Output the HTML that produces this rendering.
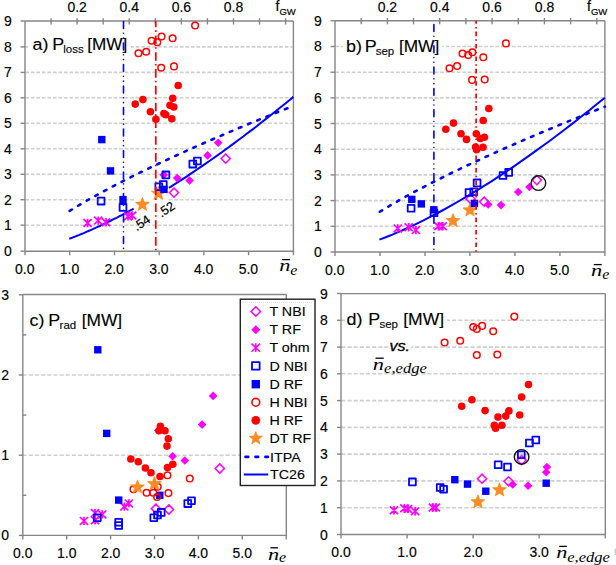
<!DOCTYPE html>
<html><head><meta charset="utf-8"><style>
html,body{margin:0;padding:0;background:#fff;}
svg{display:block;}
text{font-family:"Liberation Sans",sans-serif;fill:#000;stroke:#000;stroke-width:0.2px;}
</style></head><body>
<svg width="616" height="565" viewBox="0 0 616 565">
<rect width="616" height="565" fill="#fff"/>
<line x1="25.3" y1="225.2" x2="292.4" y2="225.2" stroke="#cfcfcf" stroke-width="1.6" stroke-dasharray="3.7 1.82"/>
<line x1="25.3" y1="199.7" x2="292.4" y2="199.7" stroke="#cfcfcf" stroke-width="1.6" stroke-dasharray="3.7 1.82"/>
<line x1="25.3" y1="174.3" x2="292.4" y2="174.3" stroke="#cfcfcf" stroke-width="1.6" stroke-dasharray="3.7 1.82"/>
<line x1="25.3" y1="148.8" x2="292.4" y2="148.8" stroke="#cfcfcf" stroke-width="1.6" stroke-dasharray="3.7 1.82"/>
<line x1="25.3" y1="123.3" x2="292.4" y2="123.3" stroke="#cfcfcf" stroke-width="1.6" stroke-dasharray="3.7 1.82"/>
<line x1="25.3" y1="97.8" x2="292.4" y2="97.8" stroke="#cfcfcf" stroke-width="1.6" stroke-dasharray="3.7 1.82"/>
<line x1="25.3" y1="72.4" x2="292.4" y2="72.4" stroke="#cfcfcf" stroke-width="1.6" stroke-dasharray="3.7 1.82"/>
<line x1="25.3" y1="46.9" x2="292.4" y2="46.9" stroke="#cfcfcf" stroke-width="1.6" stroke-dasharray="3.7 1.82"/>
<path d="M25.0 21.0L25.0 251.2L293.4 251.2L293.4 21.0M25.0 21.0L293.4 21.0" stroke="#868686" stroke-width="1.4" fill="none"/>
<line x1="20.5" y1="251.2" x2="25.0" y2="251.2" stroke="#868686" stroke-width="1.4" />
<line x1="20.5" y1="225.2" x2="25.0" y2="225.2" stroke="#868686" stroke-width="1.4" />
<line x1="20.5" y1="199.7" x2="25.0" y2="199.7" stroke="#868686" stroke-width="1.4" />
<line x1="20.5" y1="174.3" x2="25.0" y2="174.3" stroke="#868686" stroke-width="1.4" />
<line x1="20.5" y1="148.8" x2="25.0" y2="148.8" stroke="#868686" stroke-width="1.4" />
<line x1="20.5" y1="123.3" x2="25.0" y2="123.3" stroke="#868686" stroke-width="1.4" />
<line x1="20.5" y1="97.8" x2="25.0" y2="97.8" stroke="#868686" stroke-width="1.4" />
<line x1="20.5" y1="72.4" x2="25.0" y2="72.4" stroke="#868686" stroke-width="1.4" />
<line x1="20.5" y1="46.9" x2="25.0" y2="46.9" stroke="#868686" stroke-width="1.4" />
<line x1="20.5" y1="21.0" x2="25.0" y2="21.0" stroke="#868686" stroke-width="1.4" />
<line x1="25.0" y1="251.2" x2="25.0" y2="255.2" stroke="#868686" stroke-width="1.4" />
<line x1="69.7" y1="251.2" x2="69.7" y2="255.2" stroke="#868686" stroke-width="1.4" />
<line x1="114.5" y1="251.2" x2="114.5" y2="255.2" stroke="#868686" stroke-width="1.4" />
<line x1="159.2" y1="251.2" x2="159.2" y2="255.2" stroke="#868686" stroke-width="1.4" />
<line x1="203.9" y1="251.2" x2="203.9" y2="255.2" stroke="#868686" stroke-width="1.4" />
<line x1="248.6" y1="251.2" x2="248.6" y2="255.2" stroke="#868686" stroke-width="1.4" />
<line x1="293.4" y1="251.2" x2="293.4" y2="255.2" stroke="#868686" stroke-width="1.4" />
<line x1="51.1" y1="18.2" x2="51.1" y2="24.5" stroke="#868686" stroke-width="1.4" />
<line x1="77.1" y1="18.2" x2="77.1" y2="24.5" stroke="#868686" stroke-width="1.4" />
<line x1="103.2" y1="18.2" x2="103.2" y2="24.5" stroke="#868686" stroke-width="1.4" />
<line x1="129.2" y1="18.2" x2="129.2" y2="24.5" stroke="#868686" stroke-width="1.4" />
<line x1="155.3" y1="18.2" x2="155.3" y2="24.5" stroke="#868686" stroke-width="1.4" />
<line x1="181.4" y1="18.2" x2="181.4" y2="24.5" stroke="#868686" stroke-width="1.4" />
<line x1="207.4" y1="18.2" x2="207.4" y2="24.5" stroke="#868686" stroke-width="1.4" />
<line x1="233.5" y1="18.2" x2="233.5" y2="24.5" stroke="#868686" stroke-width="1.4" />
<line x1="259.5" y1="18.2" x2="259.5" y2="24.5" stroke="#868686" stroke-width="1.4" />
<line x1="285.6" y1="18.2" x2="285.6" y2="24.5" stroke="#868686" stroke-width="1.4" />
<text transform="translate(11.70,256.20) scale(1,1.07)" font-size="14" text-anchor="end" style="stroke-width:0.15px">0</text>
<text transform="translate(11.70,230.20) scale(1,1.07)" font-size="14" text-anchor="end" style="stroke-width:0.15px">1</text>
<text transform="translate(11.70,204.73) scale(1,1.07)" font-size="14" text-anchor="end" style="stroke-width:0.15px">2</text>
<text transform="translate(11.70,179.26) scale(1,1.07)" font-size="14" text-anchor="end" style="stroke-width:0.15px">3</text>
<text transform="translate(11.70,153.79) scale(1,1.07)" font-size="14" text-anchor="end" style="stroke-width:0.15px">4</text>
<text transform="translate(11.70,128.32) scale(1,1.07)" font-size="14" text-anchor="end" style="stroke-width:0.15px">5</text>
<text transform="translate(11.70,102.85) scale(1,1.07)" font-size="14" text-anchor="end" style="stroke-width:0.15px">6</text>
<text transform="translate(11.70,77.38) scale(1,1.07)" font-size="14" text-anchor="end" style="stroke-width:0.15px">7</text>
<text transform="translate(11.70,51.91) scale(1,1.07)" font-size="14" text-anchor="end" style="stroke-width:0.15px">8</text>
<text transform="translate(11.70,26.00) scale(1,1.07)" font-size="14" text-anchor="end" style="stroke-width:0.15px">9</text>
<text transform="translate(24.70,273.90) scale(1,1.07)" font-size="14" text-anchor="middle" style="stroke-width:0.15px">0.0</text>
<text transform="translate(69.43,273.90) scale(1,1.07)" font-size="14" text-anchor="middle" style="stroke-width:0.15px">1.0</text>
<text transform="translate(114.16,273.90) scale(1,1.07)" font-size="14" text-anchor="middle" style="stroke-width:0.15px">2.0</text>
<text transform="translate(158.89,273.90) scale(1,1.07)" font-size="14" text-anchor="middle" style="stroke-width:0.15px">3.0</text>
<text transform="translate(203.62,273.90) scale(1,1.07)" font-size="14" text-anchor="middle" style="stroke-width:0.15px">4.0</text>
<text transform="translate(248.35,273.90) scale(1,1.07)" font-size="14" text-anchor="middle" style="stroke-width:0.15px">5.0</text>
<text transform="translate(77.12,11.80) scale(1,1.07)" font-size="14" text-anchor="middle" style="stroke-width:0.15px">0.2</text>
<text transform="translate(129.24,11.80) scale(1,1.07)" font-size="14" text-anchor="middle" style="stroke-width:0.15px">0.4</text>
<text transform="translate(181.36,11.80) scale(1,1.07)" font-size="14" text-anchor="middle" style="stroke-width:0.15px">0.6</text>
<text transform="translate(233.48,11.80) scale(1,1.07)" font-size="14" text-anchor="middle" style="stroke-width:0.15px">0.8</text>
<text x="275.4" y="11.3" font-size="14" text-anchor="start" >f</text>
<text x="279.4" y="14.6" font-size="9.5" text-anchor="start" >GW</text>
<text transform="translate(279.30,271.10) scale(1.28,1)" style="font-family:'Liberation Serif';font-style:italic;font-size:17.5px;stroke-width:0px" >n</text>
<line x1="282.0" y1="259.6" x2="289.9" y2="259.6" stroke="#000" stroke-width="1.3"/>
<text transform="translate(290.32,274.90) scale(1.07,1)" style="font-family:'Liberation Serif';font-style:italic;font-size:15px;stroke-width:0px" >e</text>
<rect x="28" y="36" width="103" height="21" fill="#fff"/>
<text transform="translate(32.6,50.3) scale(1.1,1)" font-size="16.3" style="stroke-width:0.12px">a)</text>
<text transform="translate(52.2,50.3) scale(1.1,1)" font-size="16.3" style="stroke-width:0.12px">P</text>
<text x="63.2" y="53.4" font-size="11.5" style="stroke-width:0.12px">loss</text>
<text x="87.3" y="50.3" font-size="16.3" textLength="40" lengthAdjust="spacingAndGlyphs" style="stroke-width:0.12px">[MW]</text>
<rect x="134" y="197.8" width="34.6" height="3.6" fill="#fff"/>
<polyline points="69.2,211.2 74.8,207.7 80.4,204.4 86.0,201.1 91.6,197.9 97.2,194.8 102.8,191.7 108.4,188.7 114.0,185.8 119.6,182.8 125.2,180.0 130.8,177.2 136.4,174.4 142.1,171.6 147.7,168.9 153.3,166.2 158.9,163.5 164.5,160.9 170.1,158.3 175.7,155.7 181.3,153.2 186.9,150.6 192.5,148.1 198.1,145.6 203.7,143.2 209.3,140.7 214.9,138.3 220.5,135.9 226.1,133.5 231.7,131.1 237.3,128.7 242.9,126.4 248.5,124.0 254.1,121.7 259.8,119.4 265.4,117.1 271.0,114.9 276.6,112.6 282.2,110.3 287.8,108.1 293.4,105.9" fill="none" stroke="#0000ff" stroke-width="2.6" stroke-dasharray="2.7 7.23" stroke-dashoffset="-0.51" stroke-linecap="round"/>
<polyline points="69.2,238.8 70.8,238.2 72.4,237.6 74.0,237.0 75.6,236.4 77.2,235.7 78.8,235.1 80.5,234.4 82.1,233.8 83.7,233.1 85.3,232.4 86.9,231.7 88.5,231.0 90.1,230.3 91.7,229.6 93.3,228.9 94.9,228.2 96.5,227.4 98.2,226.7 99.8,226.0 101.4,225.2 103.0,224.4 104.6,223.7 106.2,222.9 107.8,222.1 109.4,221.3 111.0,220.5 112.6,219.7 114.2,218.9 115.9,218.1 117.5,217.3 119.1,216.4 120.7,215.6 122.3,214.8 123.9,213.9 125.5,213.1 127.1,212.2 128.7,211.3 130.3,210.4 132.0,209.6 133.6,208.7" fill="none" stroke="#0000ff" stroke-width="2.0" />
<polyline points="169.0,187.8 172.1,185.8 175.2,183.8 178.4,181.9 181.5,179.8 184.6,177.8 187.7,175.8 190.8,173.7 193.9,171.6 197.0,169.5 200.1,167.4 203.2,165.3 206.3,163.1 209.4,161.0 212.6,158.8 215.7,156.6 218.8,154.4 221.9,152.2 225.0,149.9 228.1,147.7 231.2,145.4 234.3,143.1 237.4,140.8 240.5,138.5 243.6,136.2 246.7,133.8 249.9,131.4 253.0,129.1 256.1,126.7 259.2,124.3 262.3,121.8 265.4,119.4 268.5,117.0 271.6,114.5 274.7,112.0 277.8,109.5 280.9,107.0 284.1,104.5 287.2,102.0 290.3,99.4 293.4,96.9" fill="none" stroke="#0000ff" stroke-width="2.0" />
<path d="M174.0 188.0L178.6 192.6L174.0 197.2L169.4 192.6Z" fill="none" stroke="#ff00ff" stroke-width="1.5"/>
<path d="M225.7 154.0L230.3 158.6L225.7 163.2L221.1 158.6Z" fill="none" stroke="#ff00ff" stroke-width="1.5"/>
<path d="M163.8 170.6L168.1 174.9L163.8 179.2L159.5 174.9Z" fill="#ff00ff"/>
<path d="M177.2 173.8L181.5 178.1L177.2 182.4L172.9 178.1Z" fill="#ff00ff"/>
<path d="M189.6 176.2L193.9 180.5L189.6 184.8L185.3 180.5Z" fill="#ff00ff"/>
<path d="M207.6 151.1L211.9 155.4L207.6 159.7L203.3 155.4Z" fill="#ff00ff"/>
<path d="M218.2 138.4L222.5 142.7L218.2 147.0L213.9 142.7Z" fill="#ff00ff"/>
<path d="M83.5 219.1L91.7 226.9M91.7 219.1L83.5 226.9M87.6 218.8L87.6 227.2" stroke="#ff00ff" stroke-width="1.7" fill="none"/>
<path d="M94.1 216.7L102.3 224.5M102.3 216.7L94.1 224.5M98.2 216.4L98.2 224.8" stroke="#ff00ff" stroke-width="1.7" fill="none"/>
<path d="M101.9 218.4L110.1 226.2M110.1 218.4L101.9 226.2M106.0 218.1L106.0 226.5" stroke="#ff00ff" stroke-width="1.7" fill="none"/>
<path d="M123.9 212.5L132.1 220.3M132.1 212.5L123.9 220.3M128.0 212.2L128.0 220.6" stroke="#ff00ff" stroke-width="1.7" fill="none"/>
<path d="M128.1 211.6L136.3 219.4M136.3 211.6L128.1 219.4M132.2 211.3L132.2 219.7" stroke="#ff00ff" stroke-width="1.7" fill="none"/>
<polygon points="142.40,197.30 144.25,202.06 149.34,202.34 145.39,205.57 146.69,210.51 142.40,207.74 138.11,210.51 139.41,205.57 135.46,202.34 140.55,202.06" fill="#ff8c26" stroke="#ff8000" stroke-width="0.6"/>
<polygon points="158.40,186.30 160.25,191.06 165.34,191.34 161.39,194.57 162.69,199.51 158.40,196.74 154.11,199.51 155.41,194.57 151.46,191.34 156.55,191.06" fill="#ff8c26" stroke="#ff8000" stroke-width="0.6"/>
<rect x="97.70" y="197.70" width="6.8" height="6.8" fill="none" stroke="#0000ff" stroke-width="1.8" stroke-linejoin="round"/>
<rect x="119.60" y="204.00" width="6.8" height="6.8" fill="none" stroke="#0000ff" stroke-width="1.8" stroke-linejoin="round"/>
<rect x="162.50" y="171.50" width="6.8" height="6.8" fill="none" stroke="#0000ff" stroke-width="1.8" stroke-linejoin="round"/>
<rect x="155.40" y="183.30" width="6.8" height="6.8" fill="none" stroke="#0000ff" stroke-width="1.8" stroke-linejoin="round"/>
<rect x="159.90" y="181.20" width="6.8" height="6.8" fill="none" stroke="#0000ff" stroke-width="1.8" stroke-linejoin="round"/>
<rect x="189.40" y="160.70" width="6.8" height="6.8" fill="none" stroke="#0000ff" stroke-width="1.8" stroke-linejoin="round"/>
<rect x="194.00" y="157.60" width="6.8" height="6.8" fill="none" stroke="#0000ff" stroke-width="1.8" stroke-linejoin="round"/>
<rect x="98.10" y="135.90" width="7.4" height="7.4" fill="#0000ff"/>
<rect x="106.80" y="167.20" width="7.4" height="7.4" fill="#0000ff"/>
<rect x="119.30" y="195.90" width="7.4" height="7.4" fill="#0000ff"/>
<rect x="160.30" y="185.70" width="7.4" height="7.4" fill="#0000ff"/>
<circle cx="195.1" cy="25.5" r="3.3" fill="none" stroke="#ff0000" stroke-width="1.5"/>
<circle cx="161.6" cy="36.5" r="3.3" fill="none" stroke="#ff0000" stroke-width="1.5"/>
<circle cx="172.6" cy="38.2" r="3.3" fill="none" stroke="#ff0000" stroke-width="1.5"/>
<circle cx="151.6" cy="40.8" r="3.3" fill="none" stroke="#ff0000" stroke-width="1.5"/>
<circle cx="157.3" cy="42.2" r="3.3" fill="none" stroke="#ff0000" stroke-width="1.5"/>
<circle cx="138.5" cy="53.3" r="3.3" fill="none" stroke="#ff0000" stroke-width="1.5"/>
<circle cx="146.2" cy="51.8" r="3.3" fill="none" stroke="#ff0000" stroke-width="1.5"/>
<circle cx="161.2" cy="67.7" r="3.3" fill="none" stroke="#ff0000" stroke-width="1.5"/>
<circle cx="174.0" cy="66.4" r="3.3" fill="none" stroke="#ff0000" stroke-width="1.5"/>
<circle cx="178.2" cy="85.5" r="3.8" fill="#ff0000"/>
<circle cx="142.9" cy="99.6" r="3.8" fill="#ff0000"/>
<circle cx="135.2" cy="104.1" r="3.8" fill="#ff0000"/>
<circle cx="172.7" cy="98.3" r="3.8" fill="#ff0000"/>
<circle cx="170.0" cy="105.2" r="3.8" fill="#ff0000"/>
<circle cx="173.8" cy="107.0" r="3.8" fill="#ff0000"/>
<circle cx="150.4" cy="111.7" r="3.8" fill="#ff0000"/>
<circle cx="163.9" cy="113.5" r="3.8" fill="#ff0000"/>
<circle cx="165.7" cy="114.8" r="3.8" fill="#ff0000"/>
<circle cx="155.9" cy="119.3" r="3.8" fill="#ff0000"/>
<circle cx="171.8" cy="118.8" r="3.8" fill="#ff0000"/>
<line x1="123.5" y1="21.0" x2="123.5" y2="251.2" stroke="#0000ff" stroke-width="1.6" stroke-dasharray="7 4.85 0.01 4.79 0.01 4.85" stroke-dashoffset="-0.45" stroke-linecap="round"/>
<line x1="155.8" y1="21.0" x2="155.8" y2="251.2" stroke="#ff0000" stroke-width="1.7" stroke-dasharray="8.6 3.1 1.6 3.5" stroke-dashoffset="2.36"/>
<text x="0" y="0" font-size="12.6" text-anchor="start" transform="translate(136.8,231.3) rotate(-34)">.54</text>
<text x="0" y="0" font-size="12.6" text-anchor="start" transform="translate(161.4,217.8) rotate(-34)">.52</text>
<line x1="335.3" y1="226.3" x2="603.9" y2="226.3" stroke="#cfcfcf" stroke-width="1.6" stroke-dasharray="3.7 1.82"/>
<line x1="335.3" y1="200.6" x2="603.9" y2="200.6" stroke="#cfcfcf" stroke-width="1.6" stroke-dasharray="3.7 1.82"/>
<line x1="335.3" y1="174.9" x2="603.9" y2="174.9" stroke="#cfcfcf" stroke-width="1.6" stroke-dasharray="3.7 1.82"/>
<line x1="335.3" y1="149.2" x2="603.9" y2="149.2" stroke="#cfcfcf" stroke-width="1.6" stroke-dasharray="3.7 1.82"/>
<line x1="335.3" y1="123.5" x2="603.9" y2="123.5" stroke="#cfcfcf" stroke-width="1.6" stroke-dasharray="3.7 1.82"/>
<line x1="335.3" y1="97.9" x2="603.9" y2="97.9" stroke="#cfcfcf" stroke-width="1.6" stroke-dasharray="3.7 1.82"/>
<line x1="335.3" y1="72.2" x2="603.9" y2="72.2" stroke="#cfcfcf" stroke-width="1.6" stroke-dasharray="3.7 1.82"/>
<line x1="335.3" y1="46.5" x2="603.9" y2="46.5" stroke="#cfcfcf" stroke-width="1.6" stroke-dasharray="3.7 1.82"/>
<path d="M335.0 20.8L335.0 252.0L604.9 252.0L604.9 20.8M335.0 20.8L604.9 20.8" stroke="#868686" stroke-width="1.4" fill="none"/>
<line x1="330.5" y1="252.0" x2="335.0" y2="252.0" stroke="#868686" stroke-width="1.4" />
<line x1="330.5" y1="226.3" x2="335.0" y2="226.3" stroke="#868686" stroke-width="1.4" />
<line x1="330.5" y1="200.6" x2="335.0" y2="200.6" stroke="#868686" stroke-width="1.4" />
<line x1="330.5" y1="174.9" x2="335.0" y2="174.9" stroke="#868686" stroke-width="1.4" />
<line x1="330.5" y1="149.2" x2="335.0" y2="149.2" stroke="#868686" stroke-width="1.4" />
<line x1="330.5" y1="123.5" x2="335.0" y2="123.5" stroke="#868686" stroke-width="1.4" />
<line x1="330.5" y1="97.9" x2="335.0" y2="97.9" stroke="#868686" stroke-width="1.4" />
<line x1="330.5" y1="72.2" x2="335.0" y2="72.2" stroke="#868686" stroke-width="1.4" />
<line x1="330.5" y1="46.5" x2="335.0" y2="46.5" stroke="#868686" stroke-width="1.4" />
<line x1="330.5" y1="20.8" x2="335.0" y2="20.8" stroke="#868686" stroke-width="1.4" />
<line x1="335.0" y1="252.0" x2="335.0" y2="256.0" stroke="#868686" stroke-width="1.4" />
<line x1="380.0" y1="252.0" x2="380.0" y2="256.0" stroke="#868686" stroke-width="1.4" />
<line x1="425.0" y1="252.0" x2="425.0" y2="256.0" stroke="#868686" stroke-width="1.4" />
<line x1="469.9" y1="252.0" x2="469.9" y2="256.0" stroke="#868686" stroke-width="1.4" />
<line x1="514.9" y1="252.0" x2="514.9" y2="256.0" stroke="#868686" stroke-width="1.4" />
<line x1="559.9" y1="252.0" x2="559.9" y2="256.0" stroke="#868686" stroke-width="1.4" />
<line x1="604.9" y1="252.0" x2="604.9" y2="256.0" stroke="#868686" stroke-width="1.4" />
<line x1="361.2" y1="18.0" x2="361.2" y2="24.3" stroke="#868686" stroke-width="1.4" />
<line x1="387.4" y1="18.0" x2="387.4" y2="24.3" stroke="#868686" stroke-width="1.4" />
<line x1="413.5" y1="18.0" x2="413.5" y2="24.3" stroke="#868686" stroke-width="1.4" />
<line x1="439.7" y1="18.0" x2="439.7" y2="24.3" stroke="#868686" stroke-width="1.4" />
<line x1="465.9" y1="18.0" x2="465.9" y2="24.3" stroke="#868686" stroke-width="1.4" />
<line x1="492.1" y1="18.0" x2="492.1" y2="24.3" stroke="#868686" stroke-width="1.4" />
<line x1="518.3" y1="18.0" x2="518.3" y2="24.3" stroke="#868686" stroke-width="1.4" />
<line x1="544.4" y1="18.0" x2="544.4" y2="24.3" stroke="#868686" stroke-width="1.4" />
<line x1="570.6" y1="18.0" x2="570.6" y2="24.3" stroke="#868686" stroke-width="1.4" />
<line x1="596.8" y1="18.0" x2="596.8" y2="24.3" stroke="#868686" stroke-width="1.4" />
<text transform="translate(321.70,257.00) scale(1,1.07)" font-size="14" text-anchor="end" style="stroke-width:0.15px">0</text>
<text transform="translate(321.70,231.31) scale(1,1.07)" font-size="14" text-anchor="end" style="stroke-width:0.15px">1</text>
<text transform="translate(321.70,205.62) scale(1,1.07)" font-size="14" text-anchor="end" style="stroke-width:0.15px">2</text>
<text transform="translate(321.70,179.93) scale(1,1.07)" font-size="14" text-anchor="end" style="stroke-width:0.15px">3</text>
<text transform="translate(321.70,154.24) scale(1,1.07)" font-size="14" text-anchor="end" style="stroke-width:0.15px">4</text>
<text transform="translate(321.70,128.55) scale(1,1.07)" font-size="14" text-anchor="end" style="stroke-width:0.15px">5</text>
<text transform="translate(321.70,102.86) scale(1,1.07)" font-size="14" text-anchor="end" style="stroke-width:0.15px">6</text>
<text transform="translate(321.70,77.17) scale(1,1.07)" font-size="14" text-anchor="end" style="stroke-width:0.15px">7</text>
<text transform="translate(321.70,51.48) scale(1,1.07)" font-size="14" text-anchor="end" style="stroke-width:0.15px">8</text>
<text transform="translate(321.70,25.80) scale(1,1.07)" font-size="14" text-anchor="end" style="stroke-width:0.15px">9</text>
<text transform="translate(334.70,274.80) scale(1,1.07)" font-size="14" text-anchor="middle" style="stroke-width:0.15px">0.0</text>
<text transform="translate(379.68,274.80) scale(1,1.07)" font-size="14" text-anchor="middle" style="stroke-width:0.15px">1.0</text>
<text transform="translate(424.66,274.80) scale(1,1.07)" font-size="14" text-anchor="middle" style="stroke-width:0.15px">2.0</text>
<text transform="translate(469.64,274.80) scale(1,1.07)" font-size="14" text-anchor="middle" style="stroke-width:0.15px">3.0</text>
<text transform="translate(514.62,274.80) scale(1,1.07)" font-size="14" text-anchor="middle" style="stroke-width:0.15px">4.0</text>
<text transform="translate(559.60,274.80) scale(1,1.07)" font-size="14" text-anchor="middle" style="stroke-width:0.15px">5.0</text>
<text transform="translate(387.36,11.80) scale(1,1.07)" font-size="14" text-anchor="middle" style="stroke-width:0.15px">0.2</text>
<text transform="translate(439.72,11.80) scale(1,1.07)" font-size="14" text-anchor="middle" style="stroke-width:0.15px">0.4</text>
<text transform="translate(492.08,11.80) scale(1,1.07)" font-size="14" text-anchor="middle" style="stroke-width:0.15px">0.6</text>
<text transform="translate(544.44,11.80) scale(1,1.07)" font-size="14" text-anchor="middle" style="stroke-width:0.15px">0.8</text>
<text x="586.9" y="11.3" font-size="14" text-anchor="start" >f</text>
<text x="590.9" y="14.6" font-size="9.5" text-anchor="start" >GW</text>
<text transform="translate(591.10,276.10) scale(1.28,1)" style="font-family:'Liberation Serif';font-style:italic;font-size:17.5px;stroke-width:0px" >n</text>
<line x1="593.8" y1="264.6" x2="601.7" y2="264.6" stroke="#000" stroke-width="1.3"/>
<text transform="translate(602.32,279.10) scale(1.07,1)" style="font-family:'Liberation Serif';font-style:italic;font-size:15px;stroke-width:0px" >e</text>
<rect x="343" y="36" width="99" height="22" fill="#fff"/>
<text transform="translate(346.0,52.1) scale(1.1,1)" font-size="16.3" style="stroke-width:0.12px">b)</text>
<text transform="translate(364.8,52.1) scale(1.1,1)" font-size="16.3" style="stroke-width:0.12px">P</text>
<text x="375.7" y="55.2" font-size="11.5" style="stroke-width:0.12px">sep</text>
<text x="398.9" y="52.1" font-size="16.3" textLength="40.3" lengthAdjust="spacingAndGlyphs" style="stroke-width:0.12px">[MW]</text>
<polyline points="379.4,212.0 385.1,208.5 390.7,205.2 396.3,201.9 402.0,198.7 407.6,195.6 413.3,192.5 418.9,189.5 424.5,186.6 430.2,183.6 435.8,180.8 441.4,178.0 447.1,175.2 452.7,172.4 458.3,169.7 464.0,167.0 469.6,164.3 475.3,161.7 480.9,159.1 486.5,156.5 492.2,154.0 497.8,151.4 503.4,148.9 509.1,146.4 514.7,144.0 520.3,141.5 526.0,139.1 531.6,136.7 537.2,134.3 542.9,131.9 548.5,129.5 554.2,127.2 559.8,124.8 565.4,122.5 571.1,120.2 576.7,117.9 582.3,115.7 588.0,113.4 593.6,111.1 599.2,108.9 604.9,106.7" fill="none" stroke="#0000ff" stroke-width="2.6" stroke-dasharray="2.7 7.23" stroke-dashoffset="-0.51" stroke-linecap="round"/>
<polyline points="379.4,239.6 385.1,237.5 390.7,235.3 396.3,232.9 402.0,230.5 407.6,227.9 413.3,225.3 418.9,222.6 424.5,219.8 430.2,216.9 435.8,214.0 441.4,211.0 447.1,207.9 452.7,204.7 458.3,201.5 464.0,198.2 469.6,194.8 475.3,191.4 480.9,187.9 486.5,184.4 492.2,180.8 497.8,177.1 503.4,173.4 509.1,169.6 514.7,165.8 520.3,161.9 526.0,157.9 531.6,153.9 537.2,149.9 542.9,145.8 548.5,141.7 554.2,137.5 559.8,133.2 565.4,129.0 571.1,124.6 576.7,120.2 582.3,115.8 588.0,111.4 593.6,106.8 599.2,102.3 604.9,97.7" fill="none" stroke="#0000ff" stroke-width="2.0" />
<path d="M470.5 194.3L475.1 198.9L470.5 203.5L465.9 198.9Z" fill="none" stroke="#ff00ff" stroke-width="1.5"/>
<path d="M484.2 197.1L488.8 201.7L484.2 206.3L479.6 201.7Z" fill="none" stroke="#ff00ff" stroke-width="1.5"/>
<path d="M536.8 175.5L541.4 180.1L536.8 184.7L532.2 180.1Z" fill="none" stroke="#ff00ff" stroke-width="1.5"/>
<path d="M488.2 200.2L492.5 204.5L488.2 208.8L483.9 204.5Z" fill="#ff00ff"/>
<path d="M501.0 200.8L505.3 205.1L501.0 209.4L496.7 205.1Z" fill="#ff00ff"/>
<path d="M518.2 187.7L522.5 192.0L518.2 196.3L513.9 192.0Z" fill="#ff00ff"/>
<path d="M529.5 182.7L533.8 187.0L529.5 191.3L525.2 187.0Z" fill="#ff00ff"/>
<path d="M393.7 224.5L401.9 232.3M401.9 224.5L393.7 232.3M397.8 224.2L397.8 232.6" stroke="#ff00ff" stroke-width="1.7" fill="none"/>
<path d="M404.6 223.3L412.8 231.1M412.8 223.3L404.6 231.1M408.7 223.0L408.7 231.4" stroke="#ff00ff" stroke-width="1.7" fill="none"/>
<path d="M411.8 226.2L420.0 234.0M420.0 226.2L411.8 234.0M415.9 225.9L415.9 234.3" stroke="#ff00ff" stroke-width="1.7" fill="none"/>
<path d="M434.3 222.3L442.5 230.1M442.5 222.3L434.3 230.1M438.4 222.0L438.4 230.4" stroke="#ff00ff" stroke-width="1.7" fill="none"/>
<path d="M438.6 222.3L446.8 230.1M446.8 222.3L438.6 230.1M442.7 222.0L442.7 230.4" stroke="#ff00ff" stroke-width="1.7" fill="none"/>
<polygon points="453.00,213.60 454.85,218.36 459.94,218.64 455.99,221.87 457.29,226.81 453.00,224.04 448.71,226.81 450.01,221.87 446.06,218.64 451.15,218.36" fill="#ff8c26" stroke="#ff8000" stroke-width="0.6"/>
<polygon points="470.00,202.90 471.85,207.66 476.94,207.94 472.99,211.17 474.29,216.11 470.00,213.34 465.71,216.11 467.01,211.17 463.06,207.94 468.15,207.66" fill="#ff8c26" stroke="#ff8000" stroke-width="0.6"/>
<rect x="407.70" y="204.80" width="6.8" height="6.8" fill="none" stroke="#0000ff" stroke-width="1.8" stroke-linejoin="round"/>
<rect x="430.60" y="209.40" width="6.8" height="6.8" fill="none" stroke="#0000ff" stroke-width="1.8" stroke-linejoin="round"/>
<rect x="473.70" y="179.50" width="6.8" height="6.8" fill="none" stroke="#0000ff" stroke-width="1.8" stroke-linejoin="round"/>
<rect x="465.60" y="189.10" width="6.8" height="6.8" fill="none" stroke="#0000ff" stroke-width="1.8" stroke-linejoin="round"/>
<rect x="470.30" y="188.40" width="6.8" height="6.8" fill="none" stroke="#0000ff" stroke-width="1.8" stroke-linejoin="round"/>
<rect x="499.60" y="172.10" width="6.8" height="6.8" fill="none" stroke="#0000ff" stroke-width="1.8" stroke-linejoin="round"/>
<rect x="505.30" y="169.00" width="6.8" height="6.8" fill="none" stroke="#0000ff" stroke-width="1.8" stroke-linejoin="round"/>
<rect x="408.10" y="195.70" width="7.4" height="7.4" fill="#0000ff"/>
<rect x="417.60" y="200.20" width="7.4" height="7.4" fill="#0000ff"/>
<rect x="430.10" y="206.10" width="7.4" height="7.4" fill="#0000ff"/>
<rect x="470.80" y="199.70" width="7.4" height="7.4" fill="#0000ff"/>
<circle cx="506.0" cy="43.4" r="3.3" fill="none" stroke="#ff0000" stroke-width="1.5"/>
<circle cx="462.5" cy="53.6" r="3.3" fill="none" stroke="#ff0000" stroke-width="1.5"/>
<circle cx="468.2" cy="55.1" r="3.3" fill="none" stroke="#ff0000" stroke-width="1.5"/>
<circle cx="472.4" cy="52.3" r="3.3" fill="none" stroke="#ff0000" stroke-width="1.5"/>
<circle cx="483.3" cy="57.3" r="3.3" fill="none" stroke="#ff0000" stroke-width="1.5"/>
<circle cx="449.5" cy="68.2" r="3.3" fill="none" stroke="#ff0000" stroke-width="1.5"/>
<circle cx="457.1" cy="66.0" r="3.3" fill="none" stroke="#ff0000" stroke-width="1.5"/>
<circle cx="472.1" cy="79.9" r="3.3" fill="none" stroke="#ff0000" stroke-width="1.5"/>
<circle cx="484.7" cy="79.5" r="3.3" fill="none" stroke="#ff0000" stroke-width="1.5"/>
<circle cx="488.8" cy="108.5" r="3.8" fill="#ff0000"/>
<circle cx="483.2" cy="120.5" r="3.8" fill="#ff0000"/>
<circle cx="453.5" cy="123.1" r="3.8" fill="#ff0000"/>
<circle cx="445.8" cy="129.2" r="3.8" fill="#ff0000"/>
<circle cx="461.0" cy="133.7" r="3.8" fill="#ff0000"/>
<circle cx="466.5" cy="139.4" r="3.8" fill="#ff0000"/>
<circle cx="476.3" cy="133.7" r="3.8" fill="#ff0000"/>
<circle cx="480.3" cy="138.5" r="3.8" fill="#ff0000"/>
<circle cx="484.4" cy="137.3" r="3.8" fill="#ff0000"/>
<circle cx="475.6" cy="147.0" r="3.8" fill="#ff0000"/>
<circle cx="476.6" cy="149.7" r="3.8" fill="#ff0000"/>
<circle cx="483.0" cy="147.3" r="3.8" fill="#ff0000"/>
<line x1="433.9" y1="20.8" x2="433.9" y2="252.0" stroke="#0000ff" stroke-width="1.6" stroke-dasharray="6.9 4.8 0.01 4.79 0.01 4.79" stroke-dashoffset="17.55" stroke-linecap="round"/>
<line x1="476.1" y1="20.8" x2="476.1" y2="252.0" stroke="#ff0000" stroke-width="1.7" stroke-dasharray="4.6 3.15 1.5 3.15" stroke-dashoffset="1.6"/>
<circle cx="538.4" cy="183.1" r="7.3" fill="none" stroke="#111" stroke-width="1.4"/>
<line x1="22.6" y1="455.2" x2="285.3" y2="455.2" stroke="#cfcfcf" stroke-width="1.6" stroke-dasharray="4.2 1.95"/>
<line x1="22.6" y1="375.0" x2="285.3" y2="375.0" stroke="#cfcfcf" stroke-width="1.6" stroke-dasharray="4.2 1.95"/>
<path d="M22.8 294.5L22.8 535.4L286.3 535.4L286.3 294.5M22.8 294.5L286.3 294.5" stroke="#868686" stroke-width="1.4" fill="none"/>
<line x1="18.8" y1="535.4" x2="22.8" y2="535.4" stroke="#868686" stroke-width="1.4" />
<line x1="18.8" y1="455.2" x2="22.8" y2="455.2" stroke="#868686" stroke-width="1.4" />
<line x1="18.8" y1="375.0" x2="22.8" y2="375.0" stroke="#868686" stroke-width="1.4" />
<line x1="18.8" y1="294.8" x2="22.8" y2="294.8" stroke="#868686" stroke-width="1.4" />
<line x1="22.8" y1="495.3" x2="26.3" y2="495.3" stroke="#868686" stroke-width="1.4" />
<line x1="22.8" y1="415.1" x2="26.3" y2="415.1" stroke="#868686" stroke-width="1.4" />
<line x1="22.8" y1="334.9" x2="26.3" y2="334.9" stroke="#868686" stroke-width="1.4" />
<line x1="22.8" y1="535.4" x2="22.8" y2="539.4" stroke="#868686" stroke-width="1.4" />
<line x1="66.7" y1="535.4" x2="66.7" y2="539.4" stroke="#868686" stroke-width="1.4" />
<line x1="110.6" y1="535.4" x2="110.6" y2="539.4" stroke="#868686" stroke-width="1.4" />
<line x1="154.5" y1="535.4" x2="154.5" y2="539.4" stroke="#868686" stroke-width="1.4" />
<line x1="198.4" y1="535.4" x2="198.4" y2="539.4" stroke="#868686" stroke-width="1.4" />
<line x1="242.3" y1="535.4" x2="242.3" y2="539.4" stroke="#868686" stroke-width="1.4" />
<line x1="286.2" y1="535.4" x2="286.2" y2="539.4" stroke="#868686" stroke-width="1.4" />
<text transform="translate(9.00,540.30) scale(1,1.1)" font-size="14" text-anchor="end" style="stroke-width:0.15px">0</text>
<text transform="translate(9.00,460.10) scale(1,1.1)" font-size="14" text-anchor="end" style="stroke-width:0.15px">1</text>
<text transform="translate(9.00,379.90) scale(1,1.1)" font-size="14" text-anchor="end" style="stroke-width:0.15px">2</text>
<text transform="translate(9.00,299.70) scale(1,1.1)" font-size="14" text-anchor="end" style="stroke-width:0.15px">3</text>
<text transform="translate(22.80,558.30) scale(1,1.1)" font-size="14" text-anchor="middle" style="stroke-width:0.15px">0.0</text>
<text transform="translate(66.70,558.30) scale(1,1.1)" font-size="14" text-anchor="middle" style="stroke-width:0.15px">1.0</text>
<text transform="translate(110.60,558.30) scale(1,1.1)" font-size="14" text-anchor="middle" style="stroke-width:0.15px">2.0</text>
<text transform="translate(154.50,558.30) scale(1,1.1)" font-size="14" text-anchor="middle" style="stroke-width:0.15px">3.0</text>
<text transform="translate(198.40,558.30) scale(1,1.1)" font-size="14" text-anchor="middle" style="stroke-width:0.15px">4.0</text>
<text transform="translate(242.30,558.30) scale(1,1.1)" font-size="14" text-anchor="middle" style="stroke-width:0.15px">5.0</text>
<text transform="translate(267.90,559.60) scale(1.28,1)" style="font-family:'Liberation Serif';font-style:italic;font-size:17.5px;stroke-width:0px" >n</text>
<line x1="270.4" y1="547.8" x2="277.9" y2="547.8" stroke="#000" stroke-width="1.3"/>
<text transform="translate(279.02,562.00) scale(1.07,1)" style="font-family:'Liberation Serif';font-style:italic;font-size:15px;stroke-width:0px" >e</text>
<text transform="translate(29.6,326.2) scale(1.1,1)" font-size="16.3" style="stroke-width:0.12px">c)</text>
<text transform="translate(48.3,326.2) scale(1.1,1)" font-size="16.3" style="stroke-width:0.12px">P</text>
<text x="59.6" y="329.3" font-size="11.5" style="stroke-width:0.12px">rad</text>
<text x="81.7" y="326.2" font-size="16.3" textLength="40.5" lengthAdjust="spacingAndGlyphs" style="stroke-width:0.12px">[MW]</text>
<path d="M155.9 504.1L160.5 508.7L155.9 513.3L151.3 508.7Z" fill="none" stroke="#ff00ff" stroke-width="1.5"/>
<path d="M168.9 504.9L173.5 509.5L168.9 514.1L164.3 509.5Z" fill="none" stroke="#ff00ff" stroke-width="1.5"/>
<path d="M219.8 463.9L224.4 468.5L219.8 473.1L215.2 468.5Z" fill="none" stroke="#ff00ff" stroke-width="1.5"/>
<path d="M158.3 426.1L162.6 430.4L158.3 434.7L154.0 430.4Z" fill="#ff00ff"/>
<path d="M172.6 451.9L176.9 456.2L172.6 460.5L168.3 456.2Z" fill="#ff00ff"/>
<path d="M184.8 456.2L189.1 460.5L184.8 464.8L180.5 460.5Z" fill="#ff00ff"/>
<path d="M202.1 420.3L206.4 424.6L202.1 428.9L197.8 424.6Z" fill="#ff00ff"/>
<path d="M213.1 391.6L217.4 395.9L213.1 400.2L208.8 395.9Z" fill="#ff00ff"/>
<path d="M79.9 517.0L88.1 524.8M88.1 517.0L79.9 524.8M84.0 516.7L84.0 525.1" stroke="#ff00ff" stroke-width="1.7" fill="none"/>
<path d="M91.0 509.2L99.2 517.0M99.2 509.2L91.0 517.0M95.1 508.9L95.1 517.3" stroke="#ff00ff" stroke-width="1.7" fill="none"/>
<path d="M91.0 516.4L99.2 524.2M99.2 516.4L91.0 524.2M95.1 516.1L95.1 524.5" stroke="#ff00ff" stroke-width="1.7" fill="none"/>
<path d="M98.1 510.5L106.3 518.3M106.3 510.5L98.1 518.3M102.2 510.2L102.2 518.6" stroke="#ff00ff" stroke-width="1.7" fill="none"/>
<path d="M120.2 502.7L128.4 510.5M128.4 502.7L120.2 510.5M124.3 502.4L124.3 510.8" stroke="#ff00ff" stroke-width="1.7" fill="none"/>
<path d="M124.7 499.5L132.9 507.3M132.9 499.5L124.7 507.3M128.8 499.2L128.8 507.6" stroke="#ff00ff" stroke-width="1.7" fill="none"/>
<rect x="93.90" y="514.30" width="6.8" height="6.8" fill="none" stroke="#0000ff" stroke-width="1.8" stroke-linejoin="round"/>
<rect x="115.30" y="518.80" width="6.8" height="6.8" fill="none" stroke="#0000ff" stroke-width="1.8" stroke-linejoin="round"/>
<rect x="115.30" y="522.10" width="6.8" height="6.8" fill="none" stroke="#0000ff" stroke-width="1.8" stroke-linejoin="round"/>
<rect x="150.40" y="514.30" width="6.8" height="6.8" fill="none" stroke="#0000ff" stroke-width="1.8" stroke-linejoin="round"/>
<rect x="154.10" y="511.60" width="6.8" height="6.8" fill="none" stroke="#0000ff" stroke-width="1.8" stroke-linejoin="round"/>
<rect x="157.80" y="509.00" width="6.8" height="6.8" fill="none" stroke="#0000ff" stroke-width="1.8" stroke-linejoin="round"/>
<rect x="184.40" y="500.20" width="6.8" height="6.8" fill="none" stroke="#0000ff" stroke-width="1.8" stroke-linejoin="round"/>
<rect x="188.10" y="497.30" width="6.8" height="6.8" fill="none" stroke="#0000ff" stroke-width="1.8" stroke-linejoin="round"/>
<rect x="94.10" y="346.10" width="7.4" height="7.4" fill="#0000ff"/>
<rect x="103.00" y="429.70" width="7.4" height="7.4" fill="#0000ff"/>
<rect x="115.00" y="496.40" width="7.4" height="7.4" fill="#0000ff"/>
<rect x="156.10" y="491.60" width="7.4" height="7.4" fill="#0000ff"/>
<circle cx="146.6" cy="492.8" r="3.3" fill="none" stroke="#ff0000" stroke-width="1.5"/>
<circle cx="153.2" cy="492.8" r="3.3" fill="none" stroke="#ff0000" stroke-width="1.5"/>
<circle cx="157.1" cy="497.0" r="3.3" fill="none" stroke="#ff0000" stroke-width="1.5"/>
<circle cx="168.4" cy="493.1" r="3.3" fill="none" stroke="#ff0000" stroke-width="1.5"/>
<circle cx="189.8" cy="478.5" r="3.3" fill="none" stroke="#ff0000" stroke-width="1.5"/>
<circle cx="167.5" cy="475.3" r="3.3" fill="none" stroke="#ff0000" stroke-width="1.5"/>
<circle cx="133.5" cy="489.3" r="3.3" fill="none" stroke="#ff0000" stroke-width="1.5"/>
<circle cx="157.7" cy="486.8" r="3.3" fill="none" stroke="#ff0000" stroke-width="1.5"/>
<circle cx="160.4" cy="426.4" r="3.8" fill="#ff0000"/>
<circle cx="159.0" cy="430.8" r="3.8" fill="#ff0000"/>
<circle cx="165.0" cy="430.8" r="3.8" fill="#ff0000"/>
<circle cx="168.3" cy="438.8" r="3.8" fill="#ff0000"/>
<circle cx="167.0" cy="446.1" r="3.8" fill="#ff0000"/>
<circle cx="130.8" cy="459.0" r="3.8" fill="#ff0000"/>
<circle cx="138.3" cy="461.7" r="3.8" fill="#ff0000"/>
<circle cx="145.4" cy="468.0" r="3.8" fill="#ff0000"/>
<circle cx="151.0" cy="472.8" r="3.8" fill="#ff0000"/>
<circle cx="160.0" cy="476.5" r="3.8" fill="#ff0000"/>
<circle cx="167.5" cy="467.5" r="3.8" fill="#ff0000"/>
<circle cx="172.8" cy="464.3" r="3.8" fill="#ff0000"/>
<polygon points="137.50,479.90 139.35,484.66 144.44,484.94 140.49,488.17 141.79,493.11 137.50,490.34 133.21,493.11 134.51,488.17 130.56,484.94 135.65,484.66" fill="#ff8c26" stroke="#ff8000" stroke-width="0.6"/>
<polygon points="154.40,476.60 156.25,481.36 161.34,481.64 157.39,484.87 158.69,489.81 154.40,487.04 150.11,489.81 151.41,484.87 147.46,481.64 152.55,481.36" fill="#ff8c26" stroke="#ff8000" stroke-width="0.6"/>
<line x1="341.3" y1="507.7" x2="604.3" y2="507.7" stroke="#cfcfcf" stroke-width="1.6" stroke-dasharray="4.2 1.95"/>
<line x1="341.3" y1="480.9" x2="604.3" y2="480.9" stroke="#cfcfcf" stroke-width="1.6" stroke-dasharray="4.2 1.95"/>
<line x1="341.3" y1="454.1" x2="604.3" y2="454.1" stroke="#cfcfcf" stroke-width="1.6" stroke-dasharray="4.2 1.95"/>
<line x1="341.3" y1="427.4" x2="604.3" y2="427.4" stroke="#cfcfcf" stroke-width="1.6" stroke-dasharray="4.2 1.95"/>
<line x1="341.3" y1="400.6" x2="604.3" y2="400.6" stroke="#cfcfcf" stroke-width="1.6" stroke-dasharray="4.2 1.95"/>
<line x1="341.3" y1="373.8" x2="604.3" y2="373.8" stroke="#cfcfcf" stroke-width="1.6" stroke-dasharray="4.2 1.95"/>
<line x1="341.3" y1="347.1" x2="604.3" y2="347.1" stroke="#cfcfcf" stroke-width="1.6" stroke-dasharray="4.2 1.95"/>
<line x1="341.3" y1="320.3" x2="604.3" y2="320.3" stroke="#cfcfcf" stroke-width="1.6" stroke-dasharray="4.2 1.95"/>
<path d="M341.0 293.6L341.0 534.45L605.3 534.45L605.3 293.6M341.0 293.6L605.3 293.6" stroke="#868686" stroke-width="1.4" fill="none"/>
<line x1="337.0" y1="534.5" x2="341.0" y2="534.5" stroke="#868686" stroke-width="1.4" />
<line x1="337.0" y1="507.7" x2="341.0" y2="507.7" stroke="#868686" stroke-width="1.4" />
<line x1="337.0" y1="480.9" x2="341.0" y2="480.9" stroke="#868686" stroke-width="1.4" />
<line x1="337.0" y1="454.1" x2="341.0" y2="454.1" stroke="#868686" stroke-width="1.4" />
<line x1="337.0" y1="427.4" x2="341.0" y2="427.4" stroke="#868686" stroke-width="1.4" />
<line x1="337.0" y1="400.6" x2="341.0" y2="400.6" stroke="#868686" stroke-width="1.4" />
<line x1="337.0" y1="373.8" x2="341.0" y2="373.8" stroke="#868686" stroke-width="1.4" />
<line x1="337.0" y1="347.1" x2="341.0" y2="347.1" stroke="#868686" stroke-width="1.4" />
<line x1="337.0" y1="320.3" x2="341.0" y2="320.3" stroke="#868686" stroke-width="1.4" />
<line x1="337.0" y1="293.5" x2="341.0" y2="293.5" stroke="#868686" stroke-width="1.4" />
<line x1="341.0" y1="534.5" x2="341.0" y2="538.5" stroke="#868686" stroke-width="1.4" />
<line x1="407.1" y1="534.5" x2="407.1" y2="538.5" stroke="#868686" stroke-width="1.4" />
<line x1="473.1" y1="534.5" x2="473.1" y2="538.5" stroke="#868686" stroke-width="1.4" />
<line x1="539.1" y1="534.5" x2="539.1" y2="538.5" stroke="#868686" stroke-width="1.4" />
<line x1="605.2" y1="534.5" x2="605.2" y2="538.5" stroke="#868686" stroke-width="1.4" />
<text transform="translate(327.70,539.55) scale(1,1.1)" font-size="14" text-anchor="end" style="stroke-width:0.15px">0</text>
<text transform="translate(327.70,512.78) scale(1,1.1)" font-size="14" text-anchor="end" style="stroke-width:0.15px">1</text>
<text transform="translate(327.70,486.01) scale(1,1.1)" font-size="14" text-anchor="end" style="stroke-width:0.15px">2</text>
<text transform="translate(327.70,459.24) scale(1,1.1)" font-size="14" text-anchor="end" style="stroke-width:0.15px">3</text>
<text transform="translate(327.70,432.47) scale(1,1.1)" font-size="14" text-anchor="end" style="stroke-width:0.15px">4</text>
<text transform="translate(327.70,405.70) scale(1,1.1)" font-size="14" text-anchor="end" style="stroke-width:0.15px">5</text>
<text transform="translate(327.70,378.93) scale(1,1.1)" font-size="14" text-anchor="end" style="stroke-width:0.15px">6</text>
<text transform="translate(327.70,352.16) scale(1,1.1)" font-size="14" text-anchor="end" style="stroke-width:0.15px">7</text>
<text transform="translate(327.70,325.39) scale(1,1.1)" font-size="14" text-anchor="end" style="stroke-width:0.15px">8</text>
<text transform="translate(327.70,298.62) scale(1,1.1)" font-size="14" text-anchor="end" style="stroke-width:0.15px">9</text>
<text transform="translate(341.00,557.30) scale(1,1.1)" font-size="14" text-anchor="middle" style="stroke-width:0.15px">0.0</text>
<text transform="translate(407.05,557.30) scale(1,1.1)" font-size="14" text-anchor="middle" style="stroke-width:0.15px">1.0</text>
<text transform="translate(473.10,557.30) scale(1,1.1)" font-size="14" text-anchor="middle" style="stroke-width:0.15px">2.0</text>
<text transform="translate(539.15,557.30) scale(1,1.1)" font-size="14" text-anchor="middle" style="stroke-width:0.15px">3.0</text>
<text transform="translate(556.20,558.00) scale(1.28,1)" style="font-family:'Liberation Serif';font-style:italic;font-size:17.5px;stroke-width:0px" >n</text>
<line x1="559.2" y1="546.4" x2="566.9" y2="546.4" stroke="#000" stroke-width="1.3"/>
<text transform="translate(567.21,562.10) scale(1.1,1)" style="font-family:'Liberation Serif';font-style:italic;font-size:15px;stroke-width:0px" >e,edge</text>
<rect x="345" y="311" width="102" height="20" fill="#fff"/>
<text transform="translate(346.6,325) scale(1.1,1)" font-size="16.3" style="stroke-width:0.12px">d)</text>
<text transform="translate(368.3,325) scale(1.1,1)" font-size="16.3" style="stroke-width:0.12px">P</text>
<text x="379.4" y="328.1" font-size="11.5" style="stroke-width:0.12px">sep</text>
<text x="403.2" y="325" font-size="16.3" textLength="41" lengthAdjust="spacingAndGlyphs" style="stroke-width:0.12px">[MW]</text>
<rect x="389" y="339" width="22" height="15" fill="#fff"/>
<text transform="translate(389.4,351.2) scale(1.13,1)" font-size="14.3" style="font-style:italic;stroke-width:0.3px">vs.</text>
<text transform="translate(372.70,369.80) scale(1.28,1)" style="font-family:'Liberation Serif';font-style:italic;font-size:17.5px;stroke-width:0px" >n</text>
<line x1="375.5" y1="358.2" x2="383.8" y2="358.2" stroke="#000" stroke-width="1.3"/>
<text transform="translate(384.10,373.10) scale(1.07,1)" style="font-family:'Liberation Serif';font-style:italic;font-size:15.5px;stroke-width:0px" >e,edge</text>
<path d="M521.6 455.5L526.2 460.1L521.6 464.7L517.0 460.1Z" fill="none" stroke="#ff00ff" stroke-width="1.5"/>
<path d="M482.0 474.1L486.6 478.7L482.0 483.3L477.4 478.7Z" fill="none" stroke="#ff00ff" stroke-width="1.5"/>
<path d="M508.6 476.7L513.2 481.3L508.6 485.9L504.0 481.3Z" fill="none" stroke="#ff00ff" stroke-width="1.5"/>
<path d="M512.7 480.2L517.0 484.5L512.7 488.8L508.4 484.5Z" fill="#ff00ff"/>
<path d="M528.1 481.5L532.4 485.8L528.1 490.1L523.8 485.8Z" fill="#ff00ff"/>
<path d="M546.9 462.7L551.2 467.0L546.9 471.3L542.6 467.0Z" fill="#ff00ff"/>
<path d="M546.2 467.9L550.5 472.2L546.2 476.5L541.9 472.2Z" fill="#ff00ff"/>
<path d="M389.9 506.3L398.1 514.1M398.1 506.3L389.9 514.1M394.0 506.0L394.0 514.4" stroke="#ff00ff" stroke-width="1.7" fill="none"/>
<path d="M400.3 504.3L408.5 512.1M408.5 504.3L400.3 512.1M404.4 504.0L404.4 512.4" stroke="#ff00ff" stroke-width="1.7" fill="none"/>
<path d="M403.9 505.1L412.1 512.9M412.1 505.1L403.9 512.9M408.0 504.8L408.0 513.2" stroke="#ff00ff" stroke-width="1.7" fill="none"/>
<path d="M411.0 507.3L419.2 515.1M419.2 507.3L411.0 515.1M415.1 507.0L415.1 515.4" stroke="#ff00ff" stroke-width="1.7" fill="none"/>
<path d="M428.8 503.6L437.0 511.4M437.0 503.6L428.8 511.4M432.9 503.3L432.9 511.7" stroke="#ff00ff" stroke-width="1.7" fill="none"/>
<path d="M431.7 503.6L439.9 511.4M439.9 503.6L431.7 511.4M435.8 503.3L435.8 511.7" stroke="#ff00ff" stroke-width="1.7" fill="none"/>
<polygon points="477.90,494.70 479.75,499.46 484.84,499.74 480.89,502.97 482.19,507.91 477.90,505.14 473.61,507.91 474.91,502.97 470.96,499.74 476.05,499.46" fill="#ff8c26" stroke="#ff8000" stroke-width="0.6"/>
<polygon points="499.50,482.70 501.35,487.46 506.44,487.74 502.49,490.97 503.79,495.91 499.50,493.14 495.21,495.91 496.51,490.97 492.56,487.74 497.65,487.46" fill="#ff8c26" stroke="#ff8000" stroke-width="0.6"/>
<rect x="526.00" y="439.60" width="6.8" height="6.8" fill="none" stroke="#0000ff" stroke-width="1.8" stroke-linejoin="round"/>
<rect x="532.40" y="436.60" width="6.8" height="6.8" fill="none" stroke="#0000ff" stroke-width="1.8" stroke-linejoin="round"/>
<rect x="494.80" y="461.40" width="6.8" height="6.8" fill="none" stroke="#0000ff" stroke-width="1.8" stroke-linejoin="round"/>
<rect x="504.10" y="463.60" width="6.8" height="6.8" fill="none" stroke="#0000ff" stroke-width="1.8" stroke-linejoin="round"/>
<rect x="517.90" y="451.30" width="6.8" height="6.8" fill="none" stroke="#0000ff" stroke-width="1.8" stroke-linejoin="round"/>
<rect x="409.00" y="478.50" width="6.8" height="6.8" fill="none" stroke="#0000ff" stroke-width="1.8" stroke-linejoin="round"/>
<rect x="436.80" y="484.10" width="6.8" height="6.8" fill="none" stroke="#0000ff" stroke-width="1.8" stroke-linejoin="round"/>
<rect x="440.20" y="485.80" width="6.8" height="6.8" fill="none" stroke="#0000ff" stroke-width="1.8" stroke-linejoin="round"/>
<rect x="542.50" y="479.50" width="7.4" height="7.4" fill="#0000ff"/>
<rect x="482.10" y="487.50" width="7.4" height="7.4" fill="#0000ff"/>
<rect x="451.10" y="476.00" width="7.4" height="7.4" fill="#0000ff"/>
<rect x="463.80" y="480.40" width="7.4" height="7.4" fill="#0000ff"/>
<circle cx="514.3" cy="316.6" r="3.3" fill="none" stroke="#ff0000" stroke-width="1.5"/>
<circle cx="473.2" cy="327.1" r="3.3" fill="none" stroke="#ff0000" stroke-width="1.5"/>
<circle cx="476.8" cy="328.9" r="3.3" fill="none" stroke="#ff0000" stroke-width="1.5"/>
<circle cx="482.1" cy="325.9" r="3.3" fill="none" stroke="#ff0000" stroke-width="1.5"/>
<circle cx="493.2" cy="331.3" r="3.3" fill="none" stroke="#ff0000" stroke-width="1.5"/>
<circle cx="444.6" cy="342.5" r="3.3" fill="none" stroke="#ff0000" stroke-width="1.5"/>
<circle cx="460.2" cy="340.7" r="3.3" fill="none" stroke="#ff0000" stroke-width="1.5"/>
<circle cx="476.8" cy="355.0" r="3.3" fill="none" stroke="#ff0000" stroke-width="1.5"/>
<circle cx="497.3" cy="354.5" r="3.3" fill="none" stroke="#ff0000" stroke-width="1.5"/>
<circle cx="528.5" cy="384.6" r="3.8" fill="#ff0000"/>
<circle cx="521.6" cy="397.0" r="3.8" fill="#ff0000"/>
<circle cx="471.9" cy="399.7" r="3.8" fill="#ff0000"/>
<circle cx="461.7" cy="406.3" r="3.8" fill="#ff0000"/>
<circle cx="485.1" cy="410.6" r="3.8" fill="#ff0000"/>
<circle cx="508.9" cy="410.9" r="3.8" fill="#ff0000"/>
<circle cx="505.8" cy="416.1" r="3.8" fill="#ff0000"/>
<circle cx="498.0" cy="417.1" r="3.8" fill="#ff0000"/>
<circle cx="519.7" cy="415.0" r="3.8" fill="#ff0000"/>
<circle cx="494.3" cy="425.3" r="3.8" fill="#ff0000"/>
<circle cx="495.6" cy="428.2" r="3.8" fill="#ff0000"/>
<circle cx="501.9" cy="425.3" r="3.8" fill="#ff0000"/>
<circle cx="521.6" cy="456.9" r="7.3" fill="none" stroke="#111" stroke-width="1.4"/>
<line x1="615.2" y1="548.5" x2="615.2" y2="555.0" stroke="#c4c4c4" stroke-width="1.3" />
<rect x="240.3" y="299.2" width="74.7" height="186.3" fill="#fff" stroke="#222" stroke-width="1.4"/>
<line x1="243" y1="302.5" x2="312" y2="302.5" stroke="#e4e4e4" stroke-width="1" stroke-dasharray="1 1"/>
<path d="M255.8 306.8L260.5 311.5L255.8 316.2L251.1 311.5Z" fill="none" stroke="#ff00ff" stroke-width="1.5"/>
<path d="M255.8 325.2L260.3 329.7L255.8 334.2L251.3 329.7Z" fill="#ff00ff"/>
<path d="M251.5 343.6L260.1 351.8M260.1 343.6L251.5 351.8M255.8 343.3L255.8 352.1" stroke="#ff00ff" stroke-width="1.5" fill="none"/>
<rect x="252.00" y="362.10" width="7.6" height="7.6" fill="none" stroke="#0000ff" stroke-width="1.8" stroke-linejoin="round"/>
<rect x="251.60" y="380.00" width="8.4" height="8.4" fill="#0000ff"/>
<circle cx="255.8" cy="402.3" r="3.9" fill="none" stroke="#ff0000" stroke-width="1.6"/>
<circle cx="255.8" cy="420.3" r="4.4" fill="#ff0000"/>
<polygon points="255.80,431.50 257.54,436.00 262.36,436.27 258.62,439.32 259.86,443.98 255.80,441.37 251.74,443.98 252.98,439.32 249.24,436.27 254.06,436.00" fill="#ff8c26" stroke="#ff8000" stroke-width="0.6"/>
<line x1="245" y1="456.9" x2="268" y2="456.9" stroke="#0000ff" stroke-width="2.6" stroke-dasharray="2.7 7.23" stroke-dashoffset="-0.51" stroke-linecap="round"/>
<line x1="243.8" y1="474.5" x2="268.2" y2="474.5" stroke="#0000ff" stroke-width="2.0" />
<text transform="translate(269.4,316.20) scale(1.075,1)" font-size="13.3" style="stroke-width:0.12px">T NBI</text>
<text transform="translate(269.4,334.40) scale(1.075,1)" font-size="13.3" style="stroke-width:0.12px">T RF</text>
<text transform="translate(269.4,352.40) scale(1.075,1)" font-size="13.3" style="stroke-width:0.12px">T ohm</text>
<text transform="translate(269.4,370.60) scale(1.075,1)" font-size="13.3" style="stroke-width:0.12px">D NBI</text>
<text transform="translate(269.4,388.90) scale(1.075,1)" font-size="13.3" style="stroke-width:0.12px">D RF</text>
<text transform="translate(269.4,407.00) scale(1.075,1)" font-size="13.3" style="stroke-width:0.12px">H NBI</text>
<text transform="translate(269.4,425.00) scale(1.075,1)" font-size="13.3" style="stroke-width:0.12px">H RF</text>
<text transform="translate(269.4,443.10) scale(1.075,1)" font-size="13.3" style="stroke-width:0.12px">DT RF</text>
<text transform="translate(270,461.60) scale(1.075,1)" font-size="13.3" style="stroke-width:0.12px">ITPA</text>
<text transform="translate(270,479.20) scale(1.075,1)" font-size="13.3" style="stroke-width:0.12px">TC26</text>
</svg>
</body></html>
